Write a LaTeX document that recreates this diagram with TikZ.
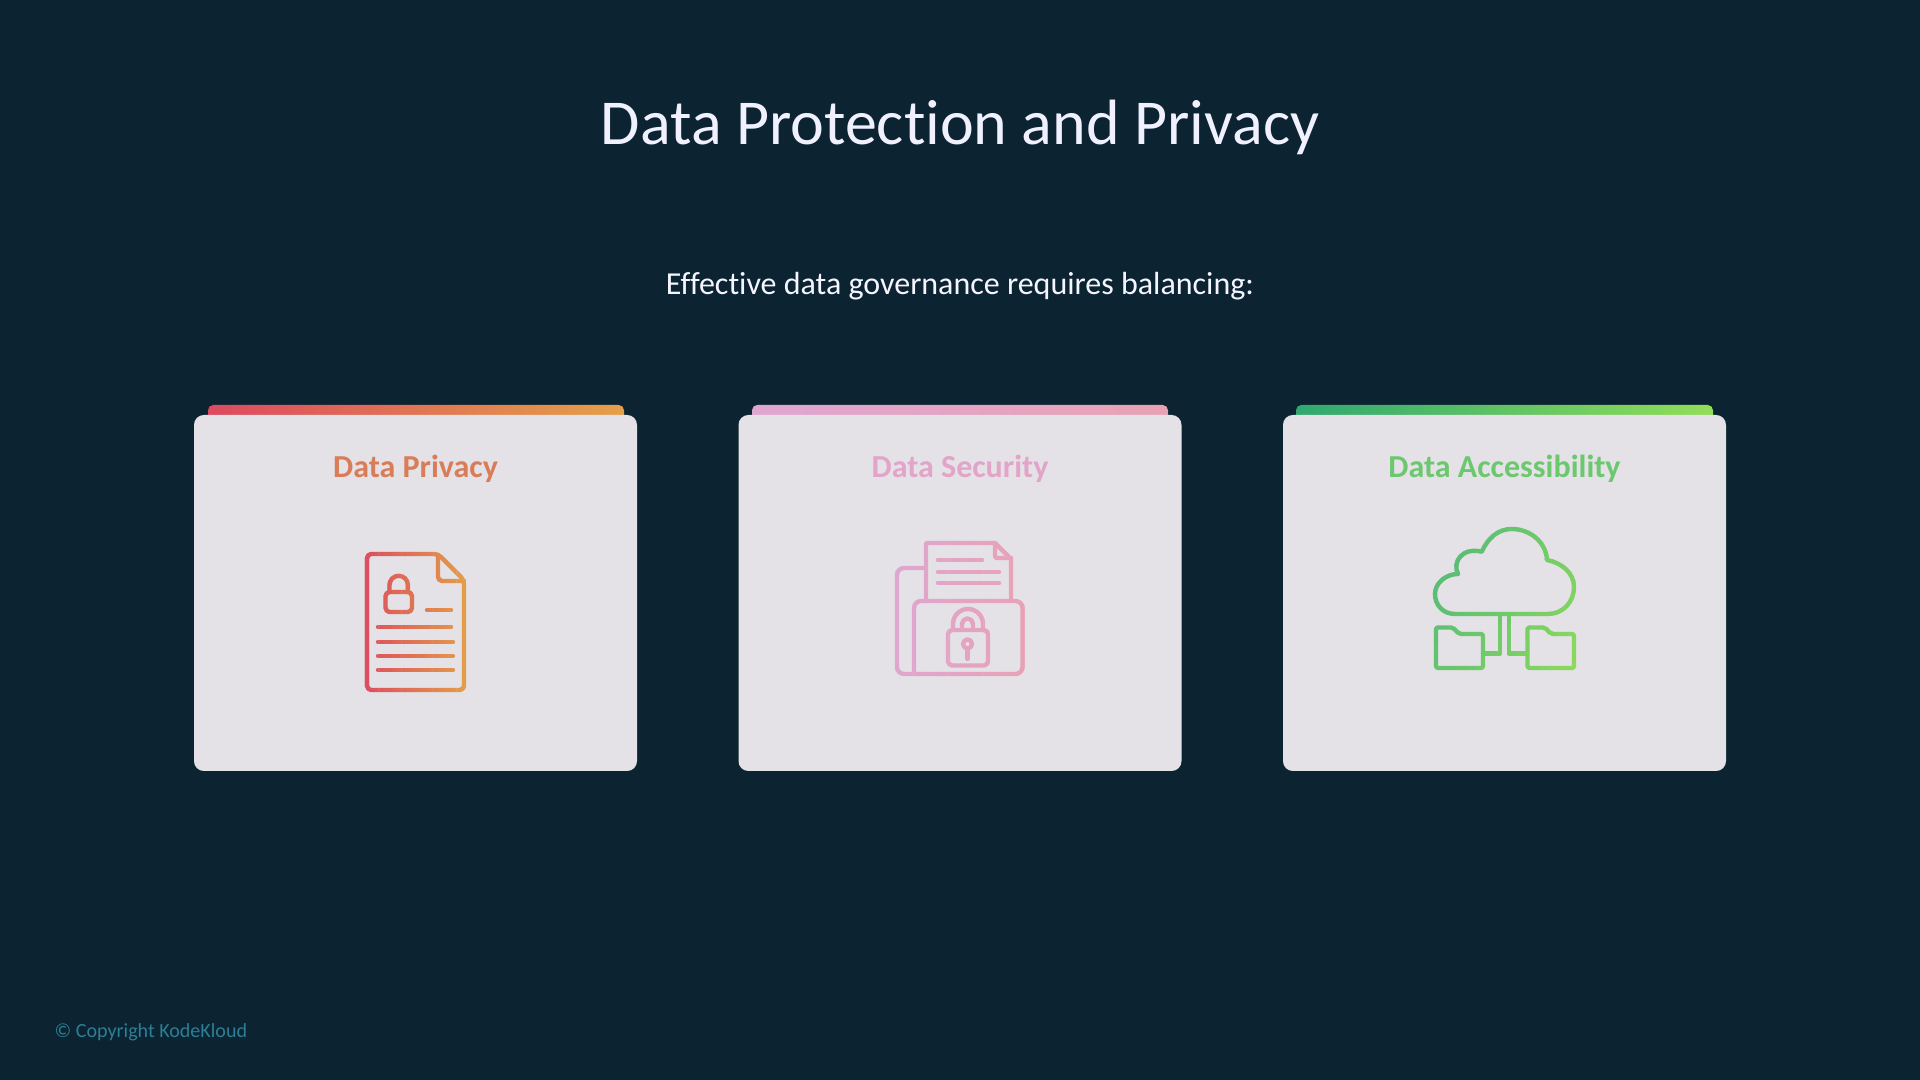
\documentclass[tikz,border=0pt]{standalone}
\usepackage{fontspec}
\setmainfont{Carlito}[Ligatures=NoCommon]

\definecolor{slidebg}{HTML}{0C2331}
\definecolor{cardbg}{HTML}{E4E2E6}
\definecolor{redA}{HTML}{DC4A60}
\definecolor{orangeA}{HTML}{E4A048}
\definecolor{pinkA}{HTML}{DFA6D2}
\definecolor{pinkB}{HTML}{E8A2B4}
\definecolor{greenA}{HTML}{2FA870}
\definecolor{greenB}{HTML}{92DE58}
\definecolor{greenC}{HTML}{4FB67C}

\tikzset{
    card/.style={fill=cardbg,rounded corners=2.8pt},
    bar/.style={rounded corners=1.5pt},
    icon/.style={line width=1.25pt,rounded corners=1.2pt,line cap=round,line join=round},
    cardtitle/.style={font=\bfseries\fontsize{9.1}{11}\selectfont,anchor=center},
}

% icon strokes, cut into stripes so that the colour runs across them
\newcommand{\gradicon}[6]{%
    \foreach \i in {0,...,23} {
        \pgfmathsetmacro{\xa}{#1+(#2-#1)*\i/24}
        \pgfmathsetmacro{\xb}{#1+(#2-#1)*(\i+1)/24+0.4}
        \pgfmathsetmacro{\pc}{100-100*(\i+0.5)/24}
        \colorlet{stripecol}{#3!\pc!#4}
        \begin{scope}
            \clip (\xa+#5,520) -- (\xb+#5,520) -- (\xb,710) -- (\xa,710) -- cycle;
            \begin{scope}[icon,draw=stripecol]
                #6
            \end{scope}
        \end{scope}
    }%
}

\newcommand{\privacyicon}{
    \draw (400,554) -- (367,554) -- (367,690) -- (464,690) -- (464,580) -- (438,554) -- cycle;
    \draw (438,555) -- (438,581) -- (464,581);
    \draw (385.5,592) rectangle (412,612);
    \draw[rounded corners=0] (389.5,592) -- (389.5,585) arc (180:360:9.2) -- (407.9,592);
    \draw (427,610) -- (451,610);
    \draw (378,627) -- (451,627);
    \draw (378,642) -- (453,642);
    \draw (378,656) -- (453,656);
    \draw (378,670) -- (453,670);
}

\newcommand{\securityicon}{
    \draw[rounded corners=0.3pt] (926,601) -- (926,543) -- (995,543) -- (1011,559) -- (1011,601);
    \draw[rounded corners=0.6pt] (995,543) -- (995,558) -- (1011,558);
    \draw (938,560) -- (982,560);
    \draw (938,572) -- (999,572);
    \draw (938,583) -- (999,583);
    \draw[rounded corners=2pt] (926,568) -- (897,568) -- (897,674) -- (1022.5,674) -- (1022.5,601) -- (914,601) -- (914,674);
    \draw (948,630) rectangle (988,665.5);
    \draw[rounded corners=0] (953,630) -- (953,624) arc (180:360:15) -- (983,630);
    \draw[rounded corners=0] (962,630) -- (962,624) arc (180:360:5.5) -- (973,630);
    \draw (967.5,644) circle (4.5);
    \draw (967.5,648.5) -- (967.5,659);
}

\newcommand{\accessicon}{
    \draw[rounded corners=0] (1455,614) .. controls (1443,614) and (1435,605) .. (1435,594)
        .. controls (1435,583) and (1446,574) .. (1458,574)
        .. controls (1452,562) and (1462,547) .. (1481.7,551.7)
        .. controls (1488,538) and (1498,529) .. (1511.7,529)
        .. controls (1530,529) and (1546,542) .. (1547,560)
        .. controls (1562,563) and (1574,573) .. (1574,587)
        .. controls (1574,602) and (1563,614) .. (1548,614) -- cycle;
    \draw[rounded corners=0] (1500,614) -- (1500,653.5) -- (1483,653.5);
    \draw[rounded corners=0] (1509,614) -- (1509,653.5) -- (1527,653.5);
    \draw[rounded corners=0.6pt] (1436,650) -- (1436,627.5) -- (1453,627.5) -- (1459,634) -- (1483,634) -- (1483,668) -- (1436,668) -- cycle;
    \draw[rounded corners=0.6pt] (1527.5,650) -- (1527.5,627.5) -- (1545,627.5) -- (1551,634) -- (1574,634) -- (1574,668) -- (1527.5,668) -- cycle;
}

\begin{document}
\begin{tikzpicture}[x=0.01cm,y=-0.01cm]
    \fill[slidebg] (0,0) rectangle (1920,1080);
    \useasboundingbox (0,0) rectangle (1920,1080);

    \node (title) at (960,127) {\color{white!94!blue}\fontsize{18.2}{22}\selectfont Data Protection and Privacy};
    \node (subtitle) at (960,286) {\color{white!96!blue}\fontsize{9.1}{11}\selectfont Effective data governance requires balancing:};

    % coloured bars behind the cards
    \shade[bar,left color=redA,right color=orangeA] (208,440) -- (208,405) -- (624,405) -- (624,440) -- cycle;
    \shade[bar,left color=pinkA,right color=pinkB] (752,440) -- (752,405) -- (1168,405) -- (1168,440) -- cycle;
    \shade[bar,left color=greenA,right color=greenB] (1296,440) -- (1296,405) -- (1713,405) -- (1713,440) -- cycle;

    \fill[card] (194,415) rectangle (637,771);
    \fill[card] (738.5,415) rectangle (1181.5,771);
    \fill[card] (1283,415) rectangle (1726,771);

    \node[cardtitle] (privacy) at (415.5,469) {\textcolor[HTML]{D97C58}{Data Privacy}};
    \node[cardtitle] (security) at (960,469) {\textcolor[HTML]{E2A4C8}{Data Security}};
    \node[cardtitle] (access) at (1504.5,469) {\textcolor[HTML]{6CC86E}{Data Accessibility}};

    \gradicon{360}{470}{redA}{orangeA}{0}{\privacyicon}
    \gradicon{890}{1030}{pinkA}{pinkB}{0}{\securityicon}
    \gradicon{1330}{1580}{greenC}{greenB}{100}{\accessicon}

    \node[anchor=west,inner sep=0pt] (copyright) at (54,1032) {\color[HTML]{2B7F96}\fontsize{5.7}{7}\selectfont © Copyright KodeKloud};
\end{tikzpicture}
\end{document}
